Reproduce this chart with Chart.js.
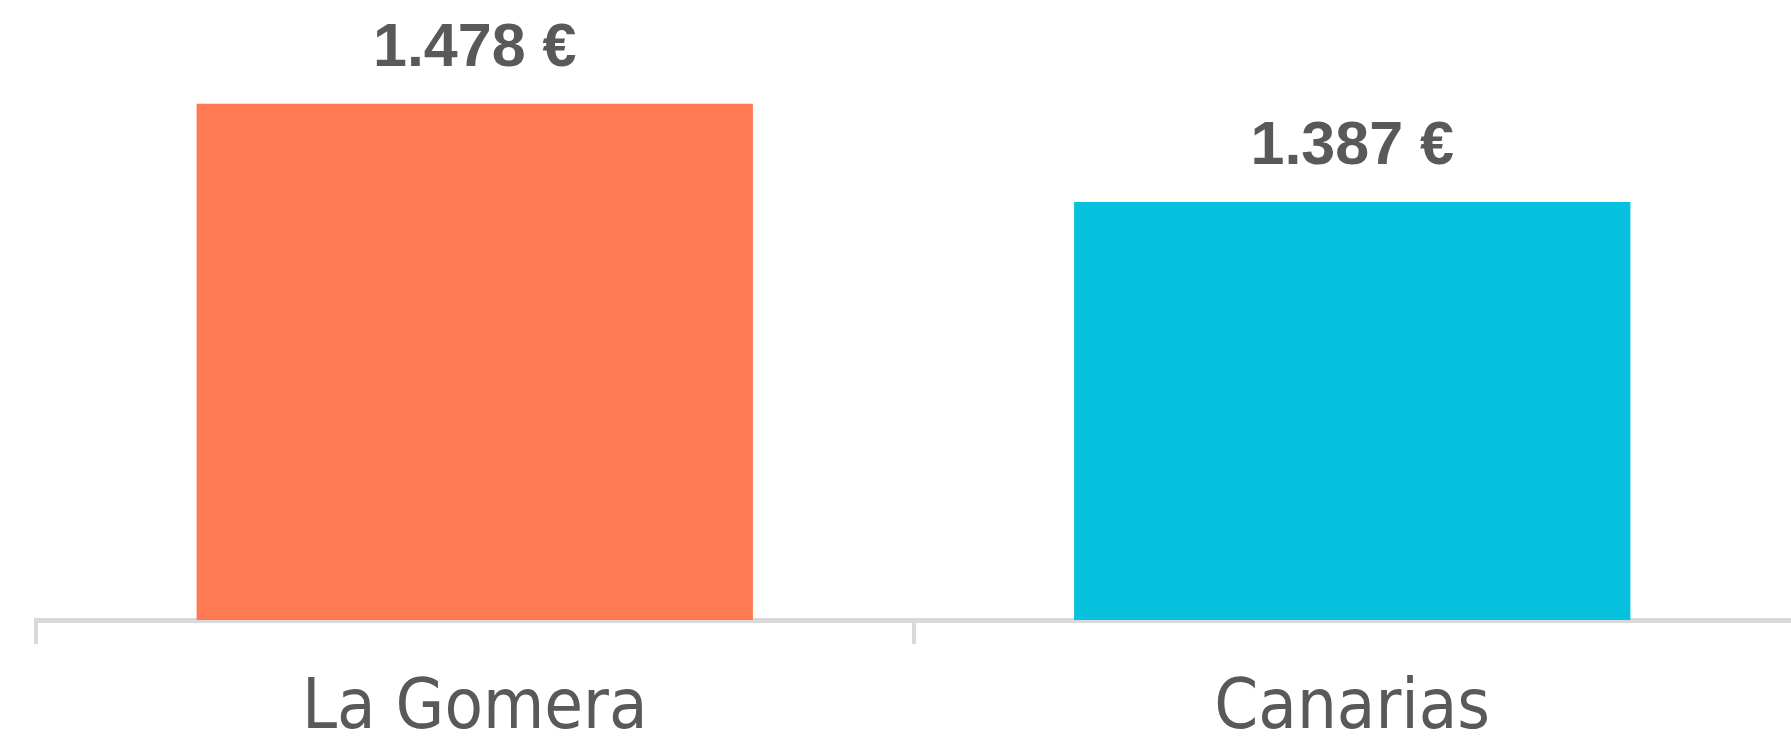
<!DOCTYPE html>
<html>
<head>
<meta charset="utf-8">
<script src="https://cdn.jsdelivr.net/npm/chart.js@4.4.0/dist/chart.umd.min.js"></script>
<style>
  html, body { margin:0; padding:0; background:#fff; }
  #wrap { width:1791px; height:740px; position:relative; }
</style>
</head>
<body>
<div id="wrap"><canvas id="chart"></canvas></div>
<script>
// datos
const categories = ['La Gomera', 'Canarias'];
const values = [1478, 1387];
const barColors = ['#FF7A53', '#07C2DE'];
const yMin = 1000;
const yMax = 1550;

function fmtEuro(v) {
    // 1478 -> "1.478 €"
    return String(Math.round(v)).replace(/\B(?=(\d{3})+(?!\d))/g, '.') + ' €';
}

// etiquetas encima de cada barra
const valueLabels = {
    id: 'valueLabels',
    afterDatasetsDraw(chart) {
        const ctx = chart.ctx;
        const meta = chart.getDatasetMeta(0);
        ctx.save();
        ctx.font = 'bold 61px "Liberation Sans", Arial, sans-serif';
        ctx.fillStyle = '#595959';
        ctx.textAlign = 'center';
        ctx.textBaseline = 'middle';
        meta.data.forEach((bar, i) => {
            ctx.fillText(fmtEuro(values[i]), bar.x, bar.y - 55);
        });
        ctx.restore();
    }
};

new Chart(document.getElementById('chart'), {
    type: 'bar',
    data: {
        labels: categories,
        datasets: [{
            data: values,
            backgroundColor: barColors,
            borderWidth: 0,
            barPercentage: 0.634,
            categoryPercentage: 1
        }]
    },
    options: {
        responsive: true,
        maintainAspectRatio: false,
        animation: false,
        layout: { padding: { left: 36, right: 0, top: 26, bottom: 0 } },
        plugins: { legend: { display: false }, tooltip: { enabled: false } },
        scales: {
            x: {
                offset: true,
                border: { display: true, color: '#D9D9D9', width: 5 },
                grid: {
                    offset: true,
                    drawOnChartArea: false,
                    drawTicks: true,
                    tickLength: 24,
                    lineWidth: 4,
                    color: c => c.type === 'tick' ? '#D9D9D9' : 'rgba(0,0,0,0)'
                },
                ticks: {
                    color: '#595959',
                    padding: 24,
                    font: { family: '"DejaVu Sans Condensed", Roboto, sans-serif', size: 70 }
                },
                afterFit: s => { s.height = 120; }
            },
            y: {
                display: false,
                min: yMin,
                max: yMax
            }
        }
    },
    plugins: [valueLabels]
});
</script>
</body>
</html>
